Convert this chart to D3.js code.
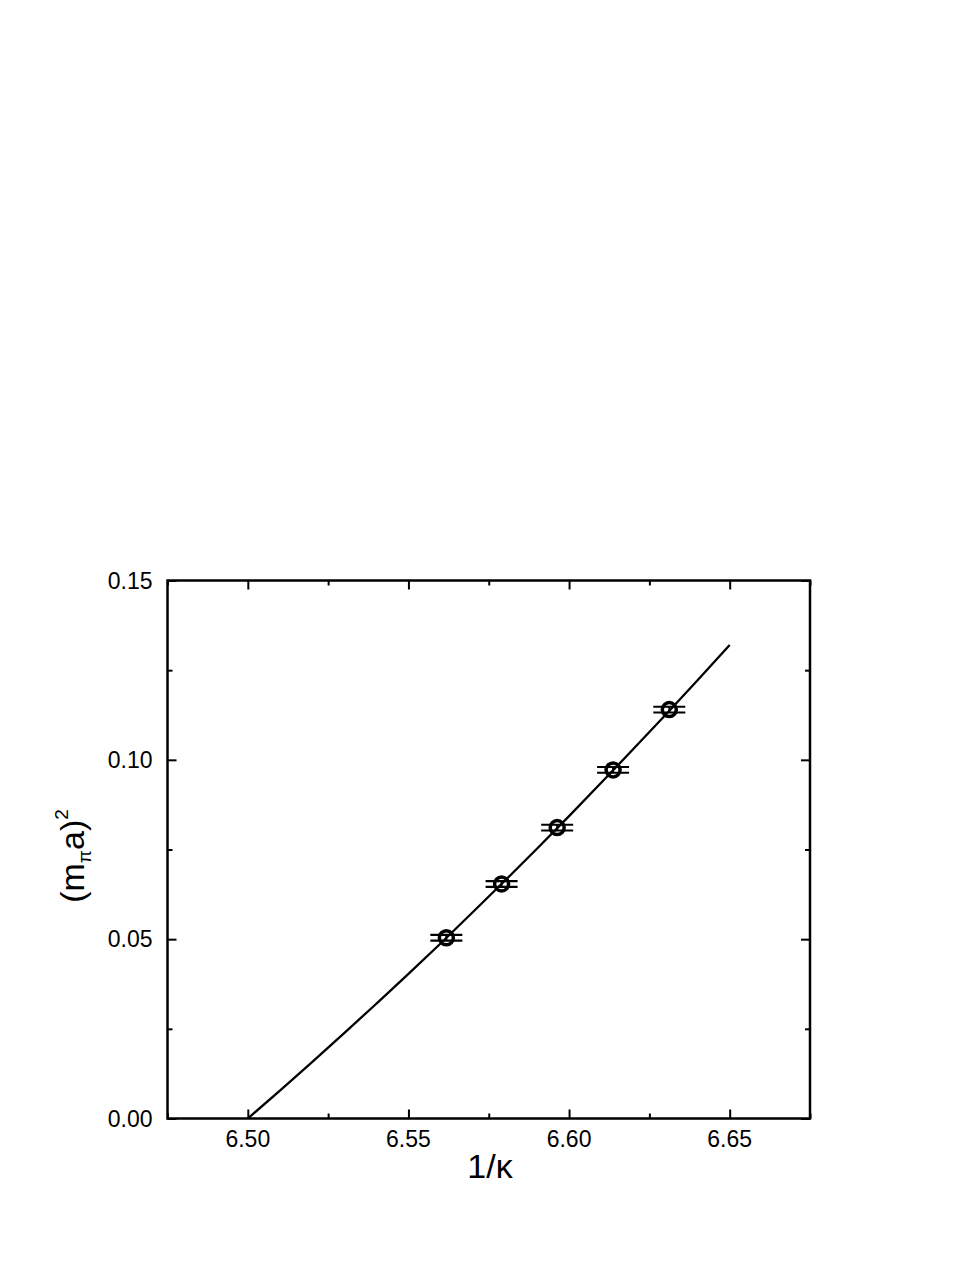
<!DOCTYPE html>
<html lang='en'>
  <head>
    <meta charset='utf-8'>
    <title>Pion mass squared vs 1/kappa</title>
    <script src='https://d3js.org/d3.v7.min.js'></script>
    <style>
      html, body {
        margin: 0;
        padding: 0;
        background: #fff;
      }
      svg text {
        font-family: 'Liberation Sans', Arial, sans-serif;
        fill: #000;
      }
    </style>
  </head>
  <body>
    <div class='vis'></div>

    <script>
      // data
      const invKappa = [6.5618, 6.5790, 6.5963, 6.6137, 6.6312];
      const mpiSq = [0.0504, 0.0654, 0.0811, 0.0972, 0.1140];
      const mpiErr = [0.0008, 0.0008, 0.0008, 0.0008, 0.0008];

      // fit curve, read at steps of 0.01
      const fitX = [6.50, 6.51, 6.52, 6.53, 6.54, 6.55, 6.56, 6.57, 6.58, 6.59, 6.60, 6.61, 6.62, 6.63, 6.64, 6.65];
      const fitY = [0.0000, 0.0078, 0.0157, 0.0238, 0.0320, 0.0403, 0.0488, 0.0575, 0.0663, 0.0752, 0.0843, 0.0936, 0.1030, 0.1125, 0.1222, 0.1320];

      const xTicks = [6.50, 6.55, 6.60, 6.65];
      const xMinor = [6.475, 6.525, 6.575, 6.625, 6.675];
      const yTicks = [0.00, 0.05, 0.10, 0.15];
      const yMinor = [0.025, 0.075, 0.125];

      // svg boundaries
      const W = 977, H = 1264;
      const plotL = 167.5, plotR = 810, plotT = 580.5, plotB = 1118.5;

      const svg = d3.select('.vis')
        .append('svg')
          .attr('width', W)
          .attr('height', H);

      const xScale = d3.scaleLinear().domain([6.475, 6.675]).range([plotL, plotR]);
      const yScale = d3.scaleLinear().domain([0, 0.15]).range([plotB, plotT]);

      const fmt = d3.format('.2f');

      // axes: labels on bottom/left, ticks inward on all four sides
      const axes = [
        [d3.axisTop(xScale).tickValues(xTicks).tickSize(9), 0, plotB],
        [d3.axisTop(xScale).tickValues(xMinor).tickSize(5), 0, plotB],
        [d3.axisBottom(xScale).tickValues(xTicks).tickSize(9), 0, plotT],
        [d3.axisBottom(xScale).tickValues(xMinor).tickSize(5), 0, plotT],
        [d3.axisRight(yScale).tickValues(yTicks).tickSize(9), plotL, 0],
        [d3.axisRight(yScale).tickValues(yMinor).tickSize(5), plotL, 0],
        [d3.axisLeft(yScale).tickValues(yTicks).tickSize(9), plotR, 0],
        [d3.axisLeft(yScale).tickValues(yMinor).tickSize(5), plotR, 0]
      ];
      axes.forEach(([ax, tx, ty]) => {
        const g = svg.append('g')
          .attr('transform', 'translate(' + tx + ',' + ty + ')')
          .call(ax.tickFormat(''));
        g.select('.domain').remove();
        g.selectAll('line').attr('stroke', '#000').attr('stroke-width', 2);
      });

      // frame
      svg.append('rect')
        .attr('x', plotL)
        .attr('y', plotT)
        .attr('width', plotR - plotL)
        .attr('height', plotB - plotT)
        .attr('fill', 'none')
        .attr('stroke', '#000')
        .attr('stroke-width', 2.5);

      // tick labels
      svg.append('g').selectAll('text')
        .data(xTicks).enter()
        .append('text')
          .attr('x', (d) => xScale(d))
          .attr('y', plotB + 28)
          .attr('text-anchor', 'middle')
          .style('font-size', '23px')
          .text(fmt);

      svg.append('g').selectAll('text')
        .data(yTicks).enter()
        .append('text')
          .attr('x', plotL - 15)
          .attr('y', (d) => yScale(d))
          .attr('dy', '0.36em')
          .attr('text-anchor', 'end')
          .style('font-size', '23px')
          .text(fmt);

      // axis titles
      svg.append('text')
        .attr('x', 490)
        .attr('y', 1178)
        .attr('text-anchor', 'middle')
        .style('font-size', '34px')
        .text('1/\u03ba');

      const yTitle = svg.append('text')
        .attr('transform', 'translate(84,856) rotate(-90)')
        .attr('text-anchor', 'middle')
        .style('font-size', '34px');
      yTitle.append('tspan').text('(m');
      yTitle.append('tspan').attr('dy', 7).style('font-size', '19px').text('\u03c0');
      yTitle.append('tspan').attr('dy', -7).text('a)');
      yTitle.append('tspan').attr('dy', -16).style('font-size', '19px').text('2');

      // fit line
      const line = d3.line()
        .x((d, i) => xScale(fitX[i]))
        .y((d) => yScale(d))
        .curve(d3.curveMonotoneX);

      svg.append('path')
        .datum(fitY)
        .attr('d', line)
        .attr('fill', 'none')
        .attr('stroke', '#000')
        .attr('stroke-width', 2.3);

      // error bars and symbols
      const pts = invKappa.map((x, i) => ({x: x, y: mpiSq[i], e: mpiErr[i]}));
      const pg = svg.append('g').selectAll('g')
        .data(pts).enter()
        .append('g');

      pg.append('line')
        .attr('x1', (d) => xScale(d.x))
        .attr('x2', (d) => xScale(d.x))
        .attr('y1', (d) => yScale(d.y + d.e))
        .attr('y2', (d) => yScale(d.y - d.e))
        .attr('stroke', '#000')
        .attr('stroke-width', 2);

      [1, -1].forEach((s) => {
        pg.append('line')
          .attr('x1', (d) => xScale(d.x) - 16)
          .attr('x2', (d) => xScale(d.x) + 16)
          .attr('y1', (d) => yScale(d.y + s * d.e))
          .attr('y2', (d) => yScale(d.y + s * d.e))
          .attr('stroke', '#000')
          .attr('stroke-width', 2.2);
      });

      pg.append('circle')
        .attr('cx', (d) => xScale(d.x))
        .attr('cy', (d) => yScale(d.y))
        .attr('r', 7)
        .attr('fill', 'none')
        .attr('stroke', '#000')
        .attr('stroke-width', 3.5);
    </script>
  </body>
</html>
